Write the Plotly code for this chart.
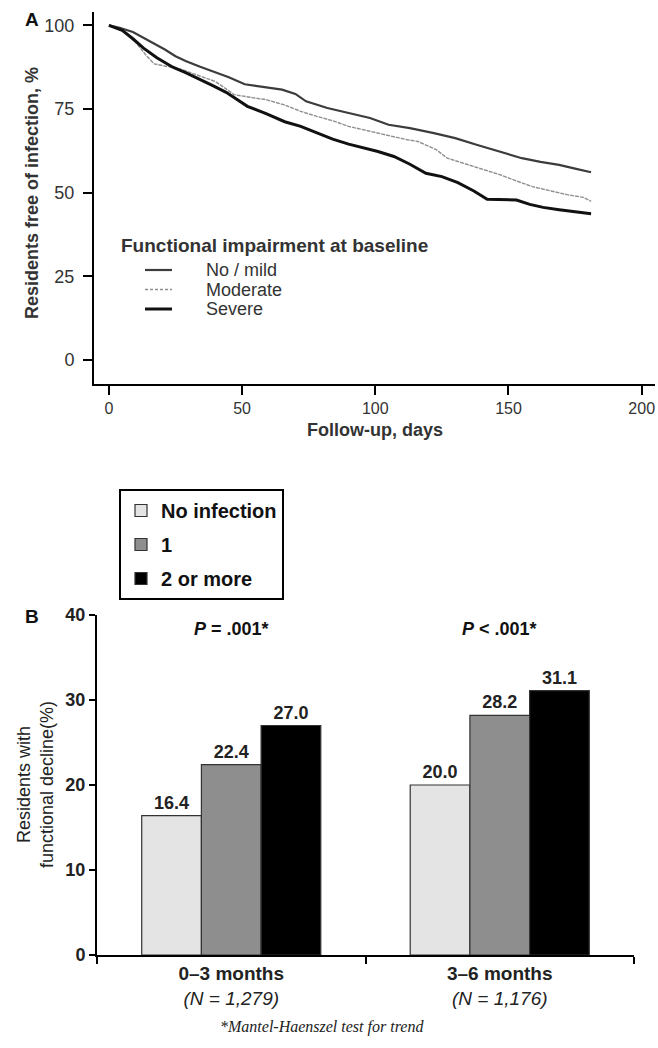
import plotly.graph_objects as go

W, H = 658, 1048

# ---------------- Panel A data (Kaplan-Meier) ----------------
nomild_days = [0, 4, 9, 15, 21, 25, 29, 34, 39, 45, 51, 58, 65, 70, 74, 82, 90, 98, 105, 113, 122, 130, 138, 146, 155, 162, 169, 175, 181]
nomild_vals = [100, 99.3, 98.0, 95.5, 92.8, 90.8, 89.3, 87.7, 86.2, 84.5, 82.4, 81.5, 80.8, 79.5, 77.3, 75.3, 73.8, 72.3, 70.3, 69.3, 67.8, 66.3, 64.3, 62.5, 60.3, 59.2, 58.3, 57.2, 56.1]

moderate_days = [0, 5, 10, 14, 17, 22, 27, 33, 40, 44, 47, 53, 59, 66, 72, 78, 84, 90, 97, 105, 112, 116, 123, 127, 132, 139, 147, 153, 159, 166, 172, 178, 181]
moderate_vals = [100, 98.5, 95.0, 91.0, 88.5, 87.7, 86.9, 85.2, 83.2, 81.0, 79.3, 78.5, 77.8, 76.2, 74.3, 72.8, 71.5, 69.8, 68.5, 67.0, 65.8, 65.3, 62.8, 60.3, 59.0, 57.3, 55.3, 53.5, 51.8, 50.5, 49.4, 48.6, 47.4]

severe_days = [0, 5, 9, 13, 18, 24, 29, 34, 39, 44, 48, 52, 59, 66, 72, 78, 84, 90, 95, 101, 107, 113, 119, 125, 131, 137, 142, 148, 153, 158, 163, 169, 175, 181]
severe_vals = [100, 98.5, 96.0, 93.2, 90.3, 87.5, 85.8, 84.0, 82.0, 80.0, 77.8, 75.8, 73.6, 71.2, 69.8, 67.8, 66.0, 64.5, 63.6, 62.3, 60.8, 58.5, 55.8, 54.8, 53.0, 50.5, 48.0, 47.9, 47.8, 46.5, 45.6, 44.9, 44.4, 43.7]

group_names = ["No / mild", "Moderate", "Severe"]
a_xticks = [0, 50, 100, 150, 200]
a_yticks = [0, 25, 50, 75, 100]

# ---------------- Panel B data ----------------
periods = ["<b>0\u20133 months</b><br><i>(N = 1,279)</i>", "<b>3\u20136 months</b><br><i>(N = 1,176)</i>"]
infection_levels = ["No infection", "1", "2 or more"]
no_infection = [16.4, 20.0]
one_infection = [22.4, 28.2]
two_or_more = [27.0, 31.1]
p_values = ["<b><i>P</i> = .001*</b>", "<b><i>P</i> < .001*</b>"]
b_yticks = [0, 10, 20, 30, 40]

FONT = "Liberation Sans, Arial, Helvetica, sans-serif"


def px(x):
    return x / W


def py(y):
    return 1 - y / H


line_styles = [dict(color="#3c3c3c", width=2.2),
               dict(color="#8f8f8f", width=1.4, dash="4px,1px"),
               dict(color="#111111", width=3)]
key_dashes = ["solid", "3px,2px", "solid"]

fig = go.Figure()

# Panel A curves
for name, xs, ys, st in zip(group_names, [nomild_days, moderate_days, severe_days],
                            [nomild_vals, moderate_vals, severe_vals], line_styles):
    fig.add_trace(go.Scatter(x=xs, y=ys, mode="lines", name=name, line=st,
                             xaxis="x", yaxis="y", showlegend=False))

# Panel B bars
bar_colors = ["#e4e4e4", "#8e8e8e", "#000000"]
for name, vals, col in zip(infection_levels, [no_infection, one_infection, two_or_more], bar_colors):
    fig.add_trace(go.Bar(x=periods, y=vals, name="<b>" + name + "</b>",
                         marker=dict(color=col, line=dict(color="#333333", width=1.2)),
                         text=[f"{v:.1f}" for v in vals], textposition="outside",
                         textfont=dict(size=18, color="#222222", family=FONT, weight="bold"),
                         cliponaxis=False, xaxis="x2", yaxis="y2", legend="legend2",
                         legendgroup=name))

A_X = [94, 655]
A_Y = [12, 384]
B_X = [97, 634]
B_Y = [615, 955]

fig.update_layout(
    width=W, height=H,
    margin=dict(l=0, r=0, t=0, b=0, autoexpand=False),
    paper_bgcolor="white", plot_bgcolor="white",
    font=dict(family=FONT, color="#222222"),
    barmode="group", bargap=0.333, bargroupgap=0,
    xaxis=dict(domain=[px(A_X[0]), px(A_X[1])], range=[-5.6, 205], tickvals=a_xticks,
               showline=True, linecolor="black", linewidth=2, ticks="outside", ticklen=9, tickwidth=2,
               tickcolor="black", showgrid=False, zeroline=False, anchor="y", automargin=False,
               tickfont=dict(size=16, color="#333333")),
    yaxis=dict(domain=[py(A_Y[1]), py(A_Y[0])], range=[-7.2, 104], tickvals=a_yticks,
               showline=True, linecolor="black", linewidth=2, ticks="outside", ticklen=9, tickwidth=2,
               tickcolor="black", showgrid=False, zeroline=False, anchor="x", automargin=False,
               ticklabelstandoff=5, tickfont=dict(size=18, color="#333333")),
    xaxis2=dict(domain=[px(B_X[0]), px(B_X[1])], anchor="y2", showline=True, linecolor="black", linewidth=2,
                ticks="outside", tickson="boundaries", ticklen=7, tickwidth=2, tickcolor="black",
                showgrid=False, automargin=False, tickfont=dict(size=19, color="#222222")),
    yaxis2=dict(domain=[py(B_Y[1]), py(B_Y[0])], anchor="x2", range=[0, 40], tickvals=b_yticks,
                showline=True, linecolor="black", linewidth=2, ticks="outside", ticklen=6, tickwidth=2,
                tickcolor="black", showgrid=False, zeroline=False, automargin=False,
                tickfont=dict(size=18, color="#222222", weight="bold")),
    legend2=dict(x=px(119), y=py(489), xanchor="left", yanchor="top", bgcolor="white",
                 bordercolor="black", borderwidth=2, font=dict(size=20, color="#111111"),
                 itemwidth=30, tracegroupgap=5, traceorder="grouped"),
    showlegend=True,
)

ann = []
shapes = []
# panel letters
ann.append(dict(x=px(32), y=py(20), xref="paper", yref="paper", text="<b>A</b>", showarrow=False,
                xanchor="center", yanchor="middle", font=dict(size=19, color="#111111")))
ann.append(dict(x=px(32), y=py(616), xref="paper", yref="paper", text="<b>B</b>", showarrow=False,
                xanchor="center", yanchor="middle", font=dict(size=19, color="#111111")))
# panel A titles
ann.append(dict(x=px(32), y=py(193), xref="paper", yref="paper", text="<b>Residents free of infection, %</b>",
                textangle=-90, showarrow=False, xanchor="center", yanchor="middle",
                font=dict(size=18, color="#333333")))
ann.append(dict(x=px(375), y=py(430), xref="paper", yref="paper", text="<b>Follow-up, days</b>",
                showarrow=False, xanchor="center", yanchor="middle", font=dict(size=18, color="#333333")))

# panel A key (title + one row per impairment group)
ann.append(dict(x=px(119), y=py(246), xref="paper", yref="paper", xanchor="left", yanchor="middle",
                text="<b>Functional impairment at baseline</b>", showarrow=False,
                font=dict(size=19, color="#333333")))
KEY_Y0, KEY_STEP = 270, 19.5
for i, (name, st, kd) in enumerate(zip(group_names, line_styles, key_dashes)):
    yy = KEY_Y0 + i * KEY_STEP
    shapes.append(dict(type="line", xref="paper", yref="paper", x0=px(145), x1=px(172),
                       y0=py(yy), y1=py(yy), line=dict(color=st["color"], width=st["width"], dash=kd)))
    ann.append(dict(x=px(204), y=py(yy), xref="paper", yref="paper", xanchor="left", yanchor="middle",
                    text=name, showarrow=False, font=dict(size=18, color="#333333")))

# panel B titles
ann.append(dict(x=px(35), y=py(785), xref="paper", yref="paper", text="Residents with<br>functional decline(%)",
                textangle=-90, showarrow=False, xanchor="center", yanchor="middle",
                font=dict(size=18, color="#222222")))
for per, pv in zip(periods, p_values):
    ann.append(dict(x=per, y=38.3, xref="x2", yref="y2", text=pv, showarrow=False,
                    xanchor="center", yanchor="middle", font=dict(size=18, color="#111111")))
ann.append(dict(x=px(322), y=py(1027), xref="paper", yref="paper",
                text="<i>*Mantel-Haenszel test for trend</i>", showarrow=False,
                xanchor="center", yanchor="middle",
                font=dict(size=16, color="#222222", family="Liberation Serif, Times New Roman, serif")))

fig.update_layout(annotations=ann, shapes=shapes)

fig.write_html("out.html", config={"displayModeBar": False},
               post_script="document.body.style.margin='0';document.body.style.overflow='hidden';")
